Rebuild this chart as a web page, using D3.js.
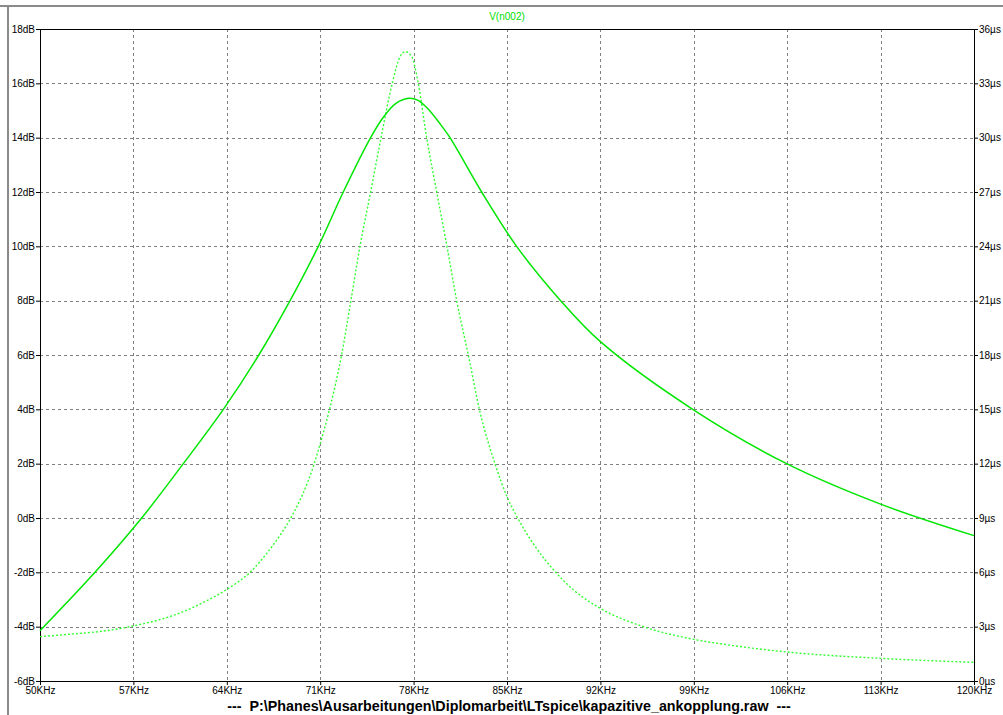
<!DOCTYPE html>
<html>
<head>
  <meta charset="utf-8">
  <title>V(n002)</title>
  <script src="https://d3js.org/d3.v7.min.js"></script>
  <style>
    body { margin: 0; background: #fff; }
    text { font-family: "Liberation Sans", Arial, sans-serif; }
  </style>
</head>
<body>
  <svg id="chart" width="1003" height="715"></svg>
  <script>
    // magnitude trace (solid, left axis, dB) - read where it crosses the grid
    var magFreq = [50, 54.12, 57.62, 60.74, 63.74, 66.4, 68.74, 70.86, 72.73, 74.78, 75.73, 76.7, 77.66, 78.3, 79, 80, 80.73, 83.1, 85.72, 89.02, 92, 98.92, 105.96, 113, 120];
    var magDb   = [-4.15, -2, 0, 2, 4, 6, 8, 10, 12, 14, 14.75, 15.27, 15.45, 15.38, 15.1, 14.5, 14, 12, 10, 8, 6.49, 4, 2, 0.51, -0.65];

    // group delay trace (dotted, right axis, µs)
    var gdFreq = [50, 52.5, 55, 57, 60.74, 62, 64, 65.74, 67, 68, 68.8, 70.55, 71, 71.7, 72.6, 73.3, 73.98, 74.78, 75.56, 76.4, 76.98, 77.38, 77.85, 78.1, 78.35, 78.98, 79.73, 80.5, 81.23, 82.1, 82.93, 84.1, 85, 85.8, 87, 88.65, 90, 92, 95.22, 99, 102, 106, 113, 120];
    var gdUs   = [2.45, 2.6, 2.78, 3.04, 3.83, 4.25, 5.06, 6.0, 7.05, 8.06, 9.0, 12.0, 13.1, 15.0, 18.0, 21.0, 24.0, 27.0, 30.0, 33.0, 34.47, 34.75, 34.5, 33.9, 33.0, 30.0, 27.0, 24.0, 21.0, 18.0, 15.0, 12.0, 10.18, 9.0, 7.55, 6.0, 5.02, 4.01, 3.0, 2.3, 1.95, 1.6, 1.25, 1.03];

    var xTicks  = [50, 57, 64, 71, 78, 85, 92, 99, 106, 113, 120];
    var dbTicks = [-6, -4, -2, 0, 2, 4, 6, 8, 10, 12, 14, 16, 18];
    var usTicks = [0, 3, 6, 9, 12, 15, 18, 21, 24, 27, 30, 33, 36];

    var traceName = "V(n002)";
    var rawFile = "---  P:\\Phanes\\Ausarbeitungen\\Diplomarbeit\\LTspice\\kapazitive_ankopplung.raw  ---";

    var svg = d3.select("#chart");
    // note: "top" is taken by window.top, so use a margin object
    var plot = {left: 40, right: 974, top: 29, bottom: 681};

    var x  = d3.scaleLinear().domain([50, 120]).range([plot.left, plot.right]);
    var yL = d3.scaleLinear().domain([-6, 18]).range([plot.bottom, plot.top]);
    var yR = d3.scaleLinear().domain([0, 36]).range([plot.bottom, plot.top]);

    // window frame (grey bars left/top)
    svg.append("rect").attr("x", 0).attr("y", 0).attr("width", 1003).attr("height", 715).attr("fill", "#fff");
    svg.append("rect").attr("x", 0).attr("y", 5).attr("width", 1003).attr("height", 2).attr("fill", "#8a8a8a");
    svg.append("rect").attr("x", 7).attr("y", 5).attr("width", 2).attr("height", 710).attr("fill", "#8a8a8a");

    // grid
    var grid = svg.append("g").attr("stroke", "#808080").attr("stroke-dasharray", "3,3").attr("stroke-width", 1);
    grid.selectAll(".gx").data(xTicks.slice(1, -1)).enter().append("line")
        .attr("x1", d => Math.round(x(d)) + 0.5).attr("x2", d => Math.round(x(d)) + 0.5)
        .attr("y1", plot.top).attr("y2", plot.bottom);
    grid.selectAll(".gy").data(dbTicks.slice(1, -1)).enter().append("line")
        .attr("y1", d => Math.round(yL(d)) + 0.5).attr("y2", d => Math.round(yL(d)) + 0.5)
        .attr("x1", plot.left).attr("x2", plot.right);

    // axes
    function styleAxis(g) {
      g.select(".domain").remove();
      g.selectAll("line").attr("stroke", "#000");
      g.selectAll("text").attr("font-size", "10px").attr("fill", "#000")
        .attr("font-family", "'Liberation Sans', Arial, sans-serif");
    }
    svg.append("g").attr("transform", "translate(" + plot.left + ",0)")
      .call(d3.axisLeft(yL).tickValues(dbTicks).tickSize(4).tickPadding(1).tickFormat(d => d + "dB"))
      .call(styleAxis);
    svg.append("g").attr("transform", "translate(" + plot.right + ",0)")
      .call(d3.axisRight(yR).tickValues(usTicks).tickSize(4).tickPadding(1).tickFormat(d => d + "µs"))
      .call(styleAxis);
    svg.append("g").attr("transform", "translate(0," + plot.bottom + ")")
      .call(d3.axisBottom(x).tickValues(xTicks).tickSize(4).tickPadding(2).tickFormat(d => d + "KHz"))
      .call(styleAxis);

    // plot frame
    svg.append("rect").attr("x", plot.left + 0.5).attr("y", plot.top + 0.5)
      .attr("width", plot.right - plot.left).attr("height", plot.bottom - plot.top)
      .attr("fill", "none").attr("stroke", "#000").attr("stroke-width", 1);

    // traces
    var magLine = d3.line().x((d, i) => x(magFreq[i])).y(d => yL(d)).curve(d3.curveCatmullRom.alpha(0.5));
    var gdLine  = d3.line().x((d, i) => x(gdFreq[i])).y(d => yR(d)).curve(d3.curveMonotoneX);

    svg.append("path").datum(gdUs).attr("d", gdLine)
      .attr("fill", "none").attr("stroke", "#33ff33").attr("stroke-width", 1.4).attr("stroke-dasharray", "2,2");
    svg.append("path").datum(magDb).attr("d", magLine)
      .attr("fill", "none").attr("stroke", "#00e600").attr("stroke-width", 1.5);

    // labels
    svg.append("text").attr("x", 507).attr("y", 20).attr("text-anchor", "middle")
      .attr("font-size", "10px").attr("fill", "#00dd00").text(traceName);
    svg.append("text").attr("x", 509).attr("y", 711).attr("text-anchor", "middle")
      .attr("font-size", "14.3px").attr("font-weight", "bold").attr("fill", "#000")
      .attr("xml:space", "preserve").style("white-space", "pre").text(rawFile);
  </script>
</body>
</html>
